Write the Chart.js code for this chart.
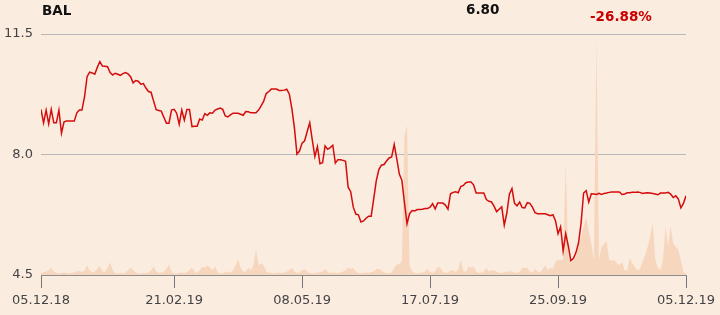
<!DOCTYPE html>
<html>
<head>
<meta charset="utf-8">
<script src="https://cdn.jsdelivr.net/npm/chart.js@4"></script>
<style>
  body { margin: 0; background: #fbece0; }
  #wrap { position: relative; width: 720px; height: 315px; background: #fbece0; }
  .hd { position: absolute; font: bold 13.5px 'DejaVu Sans', sans-serif; line-height: 14px; white-space: nowrap; }
</style>
</head>
<body>
<div id="wrap">
  <canvas id="chartBal" width="720" height="315"></canvas>
  <div class="hd" style="left:42px;top:3px;color:#111">BAL</div>
  <div class="hd" style="left:466px;top:2px;color:#111">6.80</div>
  <div class="hd" style="left:590px;top:9px;color:#cc0000">-26.88%</div>
</div>
<script>
// trading days, 05.12.18 -> 05.12.19
const tickDays   = [0, 52, 102, 152, 202, 252];
const tickLabels = ['05.12.18', '21.02.19', '08.05.19', '17.07.19', '25.09.19', '05.12.19'];
const yTicks     = [4.5, 8.0, 11.5];

const prices = [
  9.31, 8.92, 9.29, 8.89, 9.31, 8.92, 8.92, 9.29, 8.62, 8.95,
  8.97, 8.97, 8.97, 8.97, 9.21, 9.29, 9.29, 9.67, 10.26, 10.39,
  10.37, 10.33, 10.53, 10.70, 10.57, 10.56, 10.55, 10.38, 10.31, 10.36,
  10.33, 10.30, 10.35, 10.38, 10.34, 10.26, 10.08, 10.15, 10.13, 10.04,
  10.06, 9.93, 9.83, 9.81, 9.55, 9.30, 9.28, 9.26, 9.08, 8.91,
  8.91, 9.29, 9.31, 9.20, 8.88, 9.29, 9.00, 9.31, 9.31, 8.81,
  8.82, 8.82, 9.03, 9.00, 9.19, 9.14, 9.21, 9.20, 9.29, 9.32,
  9.35, 9.31, 9.12, 9.09, 9.15, 9.20, 9.20, 9.20, 9.17, 9.14,
  9.25, 9.24, 9.21, 9.21, 9.21, 9.29, 9.41, 9.55, 9.77, 9.83,
  9.90, 9.90, 9.90, 9.86, 9.86, 9.87, 9.90, 9.76, 9.34, 8.78,
  8.01, 8.10, 8.33, 8.40, 8.67, 8.92, 8.42, 7.94, 8.23, 7.73,
  7.76, 8.25, 8.15, 8.20, 8.27, 7.75, 7.85, 7.85, 7.83, 7.80,
  7.05, 6.92, 6.47, 6.27, 6.25, 6.04, 6.07, 6.15, 6.21, 6.21,
  6.72, 7.24, 7.56, 7.69, 7.71, 7.81, 7.90, 7.93, 8.29, 7.87,
  7.43, 7.25, 6.60, 5.99, 6.28, 6.37, 6.36, 6.40, 6.40, 6.41,
  6.43, 6.43, 6.47, 6.57, 6.42, 6.59, 6.59, 6.59, 6.53, 6.41,
  6.86, 6.90, 6.92, 6.89, 7.07, 7.10, 7.18, 7.20, 7.20, 7.12,
  6.88, 6.88, 6.88, 6.88, 6.69, 6.64, 6.62, 6.50, 6.34, 6.41,
  6.48, 5.95, 6.30, 6.85, 7.01, 6.58, 6.51, 6.62, 6.46, 6.45,
  6.60, 6.58, 6.47, 6.31, 6.28, 6.28, 6.28, 6.28, 6.25, 6.22,
  6.25, 6.08, 5.70, 5.90, 5.20, 5.70, 5.35, 4.92, 4.98, 5.15,
  5.43, 6.00, 6.88, 6.95, 6.62, 6.86, 6.85, 6.84, 6.87, 6.84,
  6.87, 6.88, 6.90, 6.91, 6.91, 6.91, 6.91, 6.84, 6.85, 6.89,
  6.89, 6.90, 6.90, 6.91, 6.90, 6.87, 6.88, 6.89, 6.88, 6.87,
  6.85, 6.83, 6.88, 6.88, 6.88, 6.90, 6.85, 6.75, 6.80, 6.71,
  6.45, 6.58, 6.80
];

// volume, arbitrary units (0-100 on hidden axis)
const volumes = [
  0.8, 1, 1.5, 2, 3, 1.5, 0.8, 0.6, 0.8, 1,
  0.8, 0.6, 0.8, 1.2, 1.5, 1.8, 1.2, 2, 4, 2,
  1, 1.5, 2.5, 3.7, 1.5, 1.2, 3, 5.3, 2, 0.8,
  0.6, 0.8, 0.6, 1, 2, 3, 2.2, 1, 0.7, 0.6,
  0.8, 0.6, 1, 2, 3.5, 1.5, 0.8, 1, 1.5, 2.5,
  4.4, 1.5, 0.6, 0.6, 0.8, 1, 0.7, 1.2, 2, 3,
  1.5, 0.8, 2, 3.5, 3, 4, 3, 2, 3.5, 1.2,
  0.6, 0.8, 1, 1.5, 1, 2, 4, 6.6, 3, 1.5,
  1.5, 3, 2, 4, 11, 4, 5, 4, 1.5, 1,
  0.8, 0.6, 0.8, 1, 0.8, 1, 1.5, 2, 3, 1.5,
  0.8, 1, 2, 2.5, 1.5, 0.8, 0.6, 0.8, 1, 1.2,
  1.5, 2.5, 1.2, 0.8, 1, 0.8, 0.6, 1, 1.5, 2,
  3, 2.5, 3, 1.5, 0.8, 0.6, 0.8, 1, 0.8, 1.2,
  1.5, 2.5, 2.5, 2, 1, 0.8, 0.6, 1, 3, 4.5,
  4.5, 6, 58, 62, 4, 1.5, 0.8, 0.6, 0.8, 1,
  1.5, 2.5, 1.2, 0.8, 1.5, 3.5, 3, 1.5, 0.8, 1,
  2, 2, 1, 2.5, 6.2, 2, 1, 3.5, 3, 3.5,
  1.5, 0.8, 1, 1.5, 3, 1.5, 2, 2, 1.5, 0.8,
  0.8, 1, 1.5, 1.5, 1.5, 1, 0.8, 1.5, 3, 3,
  3, 1.5, 1, 2.5, 1.5, 1, 2.5, 4, 2, 3,
  2.5, 5.5, 6.2, 6.2, 6.2, 46.6, 7.6, 5, 6, 7.6,
  12, 15.9, 20, 24.2, 18, 13.3, 6.2, 98, 6.2, 11.7,
  13, 14.2, 6.2, 6, 6, 5, 4, 5.4, 2, 2,
  7, 5, 3.3, 2, 2.5, 5.5, 8, 11.7, 16, 22,
  6.2, 3, 2, 6.2, 20, 11.7, 20.3, 13.2, 11.7, 10.4,
  6.2, 1, 0.8
];

Chart.defaults.font.family = "'DejaVu Sans', sans-serif";
Chart.defaults.font.size = 13;
Chart.defaults.color = '#444';

const toPoints = (arr) => arr.map((v, i) => ({ x: i, y: v }));

new Chart(document.getElementById('chartBal'), {
  type: 'line',
  data: {
    datasets: [
      {
        data: toPoints(prices),
        yAxisID: 'y',
        borderColor: '#d40c0c',
        borderWidth: 1.5,
        pointRadius: 0,
        tension: 0,
        fill: false,
        order: 1
      },
      {
        data: toPoints(volumes),
        yAxisID: 'yv',
        borderWidth: 0,
        backgroundColor: '#f7d6be',
        pointRadius: 0,
        tension: 0,
        fill: 'origin',
        order: 2
      }
    ]
  },
  options: {
    responsive: false,
    animation: false,
    devicePixelRatio: 1,
    layout: { padding: { top: 34, right: 34, left: 0, bottom: 0 } },
    plugins: { legend: { display: false }, tooltip: { enabled: false } },
    scales: {
      x: {
        type: 'linear',
        min: 0,
        max: prices.length - 1,
        afterBuildTicks: (s) => { s.ticks = tickDays.map(v => ({ value: v })); },
        afterFit: (s) => { s.height = 40; },
        ticks: {
          autoSkip: false,
          maxRotation: 0,
          padding: 5,
          callback: (v) => tickLabels[tickDays.indexOf(v)]
        },
        grid: { drawOnChartArea: false, drawTicks: true, tickLength: 13, color: '#777' },
        border: { display: true, color: '#8c8c8c' }
      },
      y: {
        position: 'left',
        min: 4.5,
        max: 11.5,
        afterBuildTicks: (s) => { s.ticks = yTicks.map(v => ({ value: v })); },
        afterFit: (s) => { s.width = 41; },
        ticks: { padding: 8, callback: (v) => v.toFixed(1) },
        grid: {
          drawTicks: false,
          color: (ctx) => ctx.tick && ctx.tick.value === 4.5 ? '#8c8c8c' : '#b8b8b8'
        },
        border: { display: false }
      },
      yv: { display: false, min: 0, max: 100 }
    }
  }
});
</script>
</body>
</html>
